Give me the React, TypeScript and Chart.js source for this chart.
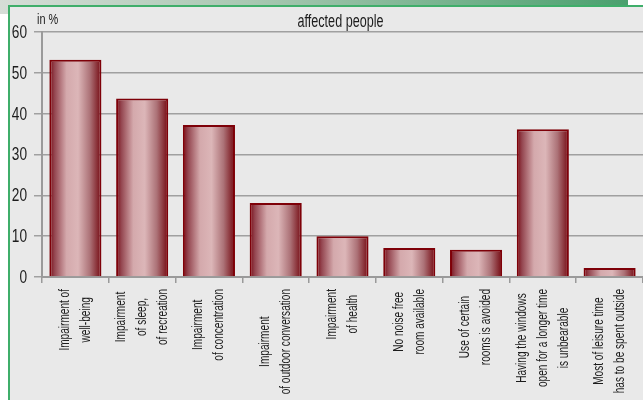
import React, { useEffect, useRef } from "react";
import { Chart, registerables } from "chart.js";

Chart.register(...registerables);

const categories: string[][] = [
  ["Impairment of", "well-being"],
  ["Impairment", "of sleep,", "of recreation"],
  ["Impairment", "of concentration"],
  ["Impairment", "of outdoor conversation"],
  ["Impairment", "of health"],
  ["No noise free", "room available"],
  ["Use of certain", "rooms is avoided"],
  ["Having the windows", "open for a longer time", "is unbearable"],
  ["Most of leisure time", "has to be spent outside"],
];
const values: number[] = [53.2, 43.7, 37.2, 18.1, 10.0, 7.1, 6.7, 36.2, 2.2];
const yTicks: number[] = [0, 10, 20, 30, 40, 50, 60];
const titleText = "affected people";
const unitText = "in %";

const FONT = "'Liberation Sans', Arial, sans-serif";
const TEXT = "#1c1c1c";
const BAR_PCT = 0.78;

function drawScaledText(ctx: CanvasRenderingContext2D, text: string, x: number, y: number, sx: number, align: CanvasTextAlign) {
  ctx.save();
  ctx.translate(x, y);
  ctx.scale(sx, 1);
  ctx.textAlign = align;
  ctx.fillText(text, 0, 0);
  ctx.restore();
}

const textPlugin = {
  id: "customText",
  afterDraw(chart: any) {
    const ctx: CanvasRenderingContext2D = chart.ctx;
    const area = chart.chartArea;
    const xs = chart.scales.x;
    const ys = chart.scales.y;
    ctx.save();
    ctx.fillStyle = TEXT;
    ctx.textBaseline = "middle";
    // title
    ctx.font = `18px ${FONT}`;
    drawScaledText(ctx, titleText, (area.left + area.right) / 2 - 2, 22, 0.7, "center");
    // unit
    ctx.font = `14px ${FONT}`;
    drawScaledText(ctx, unitText, 37, 20, 0.78, "left");
    // y tick labels
    ctx.font = `18px ${FONT}`;
    yTicks.forEach((v) => {
      drawScaledText(ctx, String(v), 27, ys.getPixelForValue(v) + 1, 0.76, "right");
    });
    // x labels
    ctx.font = `14px ${FONT}`;
    const sx = 0.72;
    const lineH = 21;
    const anchorY = area.bottom + 12;
    categories.forEach((lines, i) => {
      const x = xs.getPixelForValue(i);
      const maxW = Math.max(...lines.map((l) => ctx.measureText(l).width)) * sx;
      ctx.save();
      ctx.translate(x, anchorY);
      ctx.rotate(-Math.PI / 2);
      lines.forEach((l, k) => {
        const ly = (k - (lines.length - 1) / 2) * lineH;
        ctx.save();
        ctx.translate(-maxW / 2, ly);
        ctx.scale(sx, 1);
        ctx.textAlign = "center";
        ctx.fillText(l, 0, 0);
        ctx.restore();
      });
      ctx.restore();
    });
    ctx.restore();
  },
};

export default function App() {
  const ref = useRef<HTMLCanvasElement | null>(null);
  useEffect(() => {
    if (!ref.current) return;
    const chart = new Chart(ref.current, {
      type: "bar",
      data: {
        labels: categories.map((c) => c.join(" ")),
        datasets: [
          {
            data: values,
            backgroundColor: (c: any) => {
              const ch = c.chart;
              const area = ch.chartArea;
              const xs = ch.scales.x;
              if (!area || !xs) return "#c88";
              const x = xs.getPixelForValue(c.dataIndex);
              const w = ((area.right - area.left) / categories.length) * BAR_PCT;
              const g = ch.ctx.createLinearGradient(x - w / 2, 0, x + w / 2, 0);
              g.addColorStop(0, "#780a14");
              g.addColorStop(0.1, "#944650");
              g.addColorStop(0.33, "#d4a9ac");
              g.addColorStop(0.55, "#dcb6b8");
              g.addColorStop(0.78, "#ac7277");
              g.addColorStop(1, "#740810");
              return g;
            },
            borderColor: "#7e0008",
            borderWidth: { left: 2, right: 2, top: 2, bottom: 0 },
            borderSkipped: false,
            barPercentage: BAR_PCT,
            categoryPercentage: 1,
          },
        ],
      },
      options: {
        animation: false,
        responsive: false,
        maintainAspectRatio: false,
        layout: { padding: { top: 32, left: 0, right: 0, bottom: 0 } },
        plugins: { legend: { display: false }, tooltip: { enabled: false }, title: { display: false } },
        scales: {
          x: {
            grid: { offset: true, drawOnChartArea: false, drawTicks: true, tickLength: 6, color: "#9a9a9a", lineWidth: 1.5 },
            border: { color: "#9a9a9a", width: 2 },
            ticks: { display: false },
            afterFit: (s: any) => {
              s.height = 123;
            },
          },
          y: {
            min: 0,
            max: 60,
            afterBuildTicks: (s: any) => {
              s.ticks = yTicks.map((v) => ({ value: v }));
            },
            grid: { color: "#a0a0a0", lineWidth: 1.5, tickLength: 8 },
            border: { color: "#9a9a9a", width: 2 },
            ticks: { color: "rgba(0,0,0,0)", font: { family: FONT, size: 18 }, padding: 7 },
            afterFit: (s: any) => {
              s.width = 42;
            },
          },
        },
      },
      plugins: [textPlugin],
    } as any);
    return () => chart.destroy();
  }, []);

  return (
    <div style={{ position: "fixed", left: 0, top: 0, width: 643, height: 400, background: "#ffffff", overflow: "hidden" }}>
      <div style={{ position: "absolute", left: 0, top: 0, width: 628, height: 14, background: "linear-gradient(to right, #d6ddd7 0%, #a9c8b2 40%, #4aa06e 100%)" }} />
      <div
        style={{
          position: "absolute",
          left: 8,
          top: 5,
          right: 0,
          bottom: 0,
          background: "#e9e9e9",
          borderLeft: "2px solid #3fae6a",
          borderTop: "2px solid #3fae6a",
        }}
      />
      <canvas ref={ref} width={643} height={400} style={{ position: "absolute", left: 0, top: 0, width: 643, height: 400 }} />
    </div>
  );
}
